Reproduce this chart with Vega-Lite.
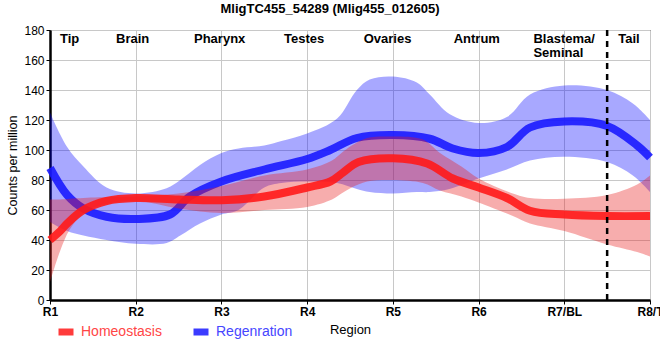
{
  "$schema": "https://vega.github.io/schema/vega-lite/v6.json",
  "width": 600,
  "height": 270,
  "autosize": {"type": "none"},
  "padding": {"left": 50, "top": 30, "right": 10, "bottom": 60},
  "background": "white",
  "title": {"text": "MligTC455_54289 (Mlig455_012605)", "font": "Liberation Sans", "fontSize": 13, "fontWeight": "bold", "color": "black", "anchor": "middle", "dx": -20, "offset": 8},
  "config": {
    "font": "Liberation Sans",
    "view": {"stroke": "black", "strokeWidth": 1},
    "axis": {"gridColor": "#c8c8c8", "gridWidth": 1, "domainColor": "black", "domainWidth": 2.5, "tickColor": "black", "tickSize": 4, "labelColor": "black", "titleColor": "black", "labelFont": "Liberation Sans", "titleFont": "Liberation Sans"},
    "axisY": {"title": "Counts per million", "titleFontSize": 12.5, "titleFontWeight": "normal", "titlePadding": 4, "values": [0, 20, 40, 60, 80, 100, 120, 140, 160, 180], "labelFontSize": 12, "labelPadding": 2, "grid": true, "labelOverlap": false}
  },
  "datasets": {
    "lines": [
      {"series": "Homeostasis", "x": 1.0, "y": 40},
      {"series": "Homeostasis", "x": 1.12, "y": 46},
      {"series": "Homeostasis", "x": 1.2, "y": 51},
      {"series": "Homeostasis", "x": 1.39, "y": 60},
      {"series": "Homeostasis", "x": 1.66, "y": 66},
      {"series": "Homeostasis", "x": 2.0, "y": 68},
      {"series": "Homeostasis", "x": 2.5, "y": 67},
      {"series": "Homeostasis", "x": 3.0, "y": 66.5},
      {"series": "Homeostasis", "x": 3.5, "y": 69},
      {"series": "Homeostasis", "x": 4.0, "y": 75},
      {"series": "Homeostasis", "x": 4.27, "y": 79},
      {"series": "Homeostasis", "x": 4.42, "y": 85},
      {"series": "Homeostasis", "x": 4.6, "y": 92},
      {"series": "Homeostasis", "x": 5.0, "y": 94.5},
      {"series": "Homeostasis", "x": 5.4, "y": 91},
      {"series": "Homeostasis", "x": 5.7, "y": 81},
      {"series": "Homeostasis", "x": 6.0, "y": 75},
      {"series": "Homeostasis", "x": 6.33, "y": 68},
      {"series": "Homeostasis", "x": 6.6, "y": 59.5},
      {"series": "Homeostasis", "x": 7.0, "y": 57},
      {"series": "Homeostasis", "x": 7.5, "y": 56},
      {"series": "Homeostasis", "x": 8.0, "y": 56},
      {"series": "Regenration", "x": 1.0, "y": 88},
      {"series": "Regenration", "x": 1.2, "y": 70},
      {"series": "Regenration", "x": 1.39, "y": 61},
      {"series": "Regenration", "x": 1.66, "y": 55.5},
      {"series": "Regenration", "x": 2.0, "y": 54},
      {"series": "Regenration", "x": 2.4, "y": 57},
      {"series": "Regenration", "x": 2.63, "y": 69},
      {"series": "Regenration", "x": 3.0, "y": 79},
      {"series": "Regenration", "x": 3.5, "y": 87},
      {"series": "Regenration", "x": 4.0, "y": 94},
      {"series": "Regenration", "x": 4.27, "y": 100},
      {"series": "Regenration", "x": 4.58, "y": 108},
      {"series": "Regenration", "x": 5.0, "y": 110},
      {"series": "Regenration", "x": 5.43, "y": 107.5},
      {"series": "Regenration", "x": 5.7, "y": 101},
      {"series": "Regenration", "x": 6.0, "y": 98},
      {"series": "Regenration", "x": 6.33, "y": 102},
      {"series": "Regenration", "x": 6.6, "y": 115},
      {"series": "Regenration", "x": 7.0, "y": 119},
      {"series": "Regenration", "x": 7.5, "y": 116},
      {"series": "Regenration", "x": 7.85, "y": 103},
      {"series": "Regenration", "x": 8.0, "y": 95}
    ],
    "bands": [
      {"series": "Homeostasis", "x": 1.0, "lo": 12, "hi": 67},
      {"series": "Homeostasis", "x": 1.12, "lo": 33, "hi": 67},
      {"series": "Homeostasis", "x": 1.23, "lo": 47, "hi": 67.5},
      {"series": "Homeostasis", "x": 1.39, "lo": 58, "hi": 68},
      {"series": "Homeostasis", "x": 1.58, "lo": 63, "hi": 68.5},
      {"series": "Homeostasis", "x": 2.0, "lo": 66, "hi": 69},
      {"series": "Homeostasis", "x": 2.5, "lo": 61, "hi": 71},
      {"series": "Homeostasis", "x": 3.0, "lo": 58, "hi": 76},
      {"series": "Homeostasis", "x": 3.5, "lo": 60, "hi": 83},
      {"series": "Homeostasis", "x": 4.0, "lo": 62, "hi": 87},
      {"series": "Homeostasis", "x": 4.29, "lo": 67, "hi": 93},
      {"series": "Homeostasis", "x": 4.4, "lo": 71, "hi": 98},
      {"series": "Homeostasis", "x": 4.52, "lo": 75, "hi": 103},
      {"series": "Homeostasis", "x": 4.7, "lo": 79, "hi": 108},
      {"series": "Homeostasis", "x": 5.0, "lo": 80, "hi": 109},
      {"series": "Homeostasis", "x": 5.35, "lo": 78, "hi": 107},
      {"series": "Homeostasis", "x": 5.55, "lo": 73, "hi": 98},
      {"series": "Homeostasis", "x": 5.8, "lo": 69, "hi": 89},
      {"series": "Homeostasis", "x": 6.0, "lo": 65, "hi": 81},
      {"series": "Homeostasis", "x": 6.4, "lo": 56, "hi": 71},
      {"series": "Homeostasis", "x": 6.6, "lo": 51, "hi": 68},
      {"series": "Homeostasis", "x": 7.0, "lo": 46, "hi": 67.5},
      {"series": "Homeostasis", "x": 7.5, "lo": 37, "hi": 70},
      {"series": "Homeostasis", "x": 7.85, "lo": 32, "hi": 77},
      {"series": "Homeostasis", "x": 8.0, "lo": 29, "hi": 83},
      {"series": "Regenration", "x": 1.0, "lo": 52, "hi": 125},
      {"series": "Regenration", "x": 1.2, "lo": 46, "hi": 102},
      {"series": "Regenration", "x": 1.39, "lo": 43, "hi": 89},
      {"series": "Regenration", "x": 1.66, "lo": 40, "hi": 75},
      {"series": "Regenration", "x": 2.0, "lo": 37.5, "hi": 71},
      {"series": "Regenration", "x": 2.36, "lo": 38, "hi": 74.5},
      {"series": "Regenration", "x": 2.52, "lo": 43, "hi": 80},
      {"series": "Regenration", "x": 2.75, "lo": 51, "hi": 90},
      {"series": "Regenration", "x": 3.0, "lo": 57, "hi": 98},
      {"series": "Regenration", "x": 3.2, "lo": 60, "hi": 101},
      {"series": "Regenration", "x": 3.5, "lo": 75, "hi": 103},
      {"series": "Regenration", "x": 3.7, "lo": 78, "hi": 106},
      {"series": "Regenration", "x": 4.0, "lo": 79, "hi": 111},
      {"series": "Regenration", "x": 4.35, "lo": 78, "hi": 121},
      {"series": "Regenration", "x": 4.58, "lo": 74, "hi": 140},
      {"series": "Regenration", "x": 4.73, "lo": 72, "hi": 147},
      {"series": "Regenration", "x": 5.0, "lo": 71, "hi": 149},
      {"series": "Regenration", "x": 5.28, "lo": 72, "hi": 145},
      {"series": "Regenration", "x": 5.43, "lo": 72, "hi": 137},
      {"series": "Regenration", "x": 5.66, "lo": 74, "hi": 124},
      {"series": "Regenration", "x": 6.0, "lo": 81, "hi": 118},
      {"series": "Regenration", "x": 6.33, "lo": 87, "hi": 122},
      {"series": "Regenration", "x": 6.6, "lo": 93, "hi": 137},
      {"series": "Regenration", "x": 7.0, "lo": 95.5, "hi": 143},
      {"series": "Regenration", "x": 7.5, "lo": 92, "hi": 140},
      {"series": "Regenration", "x": 7.8, "lo": 83, "hi": 131},
      {"series": "Regenration", "x": 8.0, "lo": 72, "hi": 120}
    ],
    "labels": [
      {"x": 1.117, "y": 171.5, "label": "Tip"},
      {"x": 1.77, "y": 171.5, "label": "Brain"},
      {"x": 2.68, "y": 171.5, "label": "Pharynx"},
      {"x": 3.73, "y": 171.5, "label": "Testes"},
      {"x": 4.66, "y": 171.5, "label": "Ovaries"},
      {"x": 5.71, "y": 171.5, "label": "Antrum"},
      {"x": 6.64, "y": 171.5, "label": "Blastema/\nSeminal"},
      {"x": 7.63, "y": 171.5, "label": "Tail"}
    ],
    "marker": [{"x": 7.5}]
  },
  "encoding": {
    "x": {"field": "x", "type": "quantitative",
      "scale": {"domain": [1, 8], "nice": false, "zero": false},
      "axis": {"title": "Region", "titleFontSize": 13, "titleFontWeight": "normal", "titlePadding": 6, "values": [1, 2, 3, 4, 5, 6, 7, 8], "labelExpr": "datum.value == 7 ? 'R7/BL' : datum.value == 8 ? 'R8/T' : 'R' + datum.value", "labelFontSize": 12, "labelFontWeight": "bold", "labelPadding": 2, "grid": true, "labelFlush": false, "labelOverlap": false}
    }
  },
  "layer": [
    {
      "data": {"name": "bands"},
      "transform": [{"filter": "datum.series == 'Regenration'"}],
      "mark": {"type": "area", "interpolate": "catmull-rom", "color": "#0000ff", "opacity": 0.34},
      "encoding": {
        "y": {"field": "lo", "type": "quantitative", "scale": {"domain": [0, 180], "nice": false}, "title": "Counts per million"},
        "y2": {"field": "hi"}
      }
    },
    {
      "data": {"name": "lines"},
      "transform": [{"filter": "datum.series == 'Regenration'"}],
      "mark": {"type": "line", "interpolate": "catmull-rom", "strokeWidth": 8, "opacity": 0.9},
      "encoding": {
        "y": {"field": "y", "type": "quantitative", "title": "Counts per million"},
        "color": {"field": "series", "type": "nominal",
          "scale": {"domain": ["Homeostasis", "Regenration"], "range": ["#ff1a1a", "#1a1aff"]},
          "legend": {"title": null, "orient": "none", "legendX": 5, "legendY": 291, "direction": "horizontal", "symbolType": "stroke", "symbolStrokeWidth": 7, "symbolSize": 225, "symbolOpacity": 0.85, "labelFontSize": 14, "labelOffset": 4, "columnPadding": 17, "padding": 0,
            "encode": {"labels": {"update": {"fill": {"signal": "datum.value == 'Homeostasis' ? '#ff4646' : '#4646ff'"}}}}}
        }
      }
    },
    {
      "data": {"name": "bands"},
      "transform": [{"filter": "datum.series == 'Homeostasis'"}],
      "mark": {"type": "area", "interpolate": "catmull-rom", "color": "#e81c1c", "opacity": 0.36},
      "encoding": {
        "y": {"field": "lo", "type": "quantitative", "title": "Counts per million"},
        "y2": {"field": "hi"}
      }
    },
    {
      "data": {"name": "lines"},
      "transform": [{"filter": "datum.series == 'Homeostasis'"}],
      "mark": {"type": "line", "interpolate": "catmull-rom", "strokeWidth": 8, "opacity": 0.9},
      "encoding": {
        "y": {"field": "y", "type": "quantitative", "title": "Counts per million"},
        "color": {"field": "series", "type": "nominal"}
      }
    },
    {
      "data": {"name": "marker"},
      "mark": {"type": "rule", "color": "black", "strokeWidth": 2.5, "strokeDash": [6, 5]},
      "encoding": {}
    },
    {
      "data": {"name": "labels"},
      "mark": {"type": "text", "align": "left", "baseline": "alphabetic", "font": "Liberation Sans", "fontSize": 13, "fontWeight": "bold", "color": "black", "lineBreak": "\n", "lineHeight": 14},
      "encoding": {
        "y": {"field": "y", "type": "quantitative", "title": "Counts per million"},
        "text": {"field": "label"}
      }
    }
  ]
}
